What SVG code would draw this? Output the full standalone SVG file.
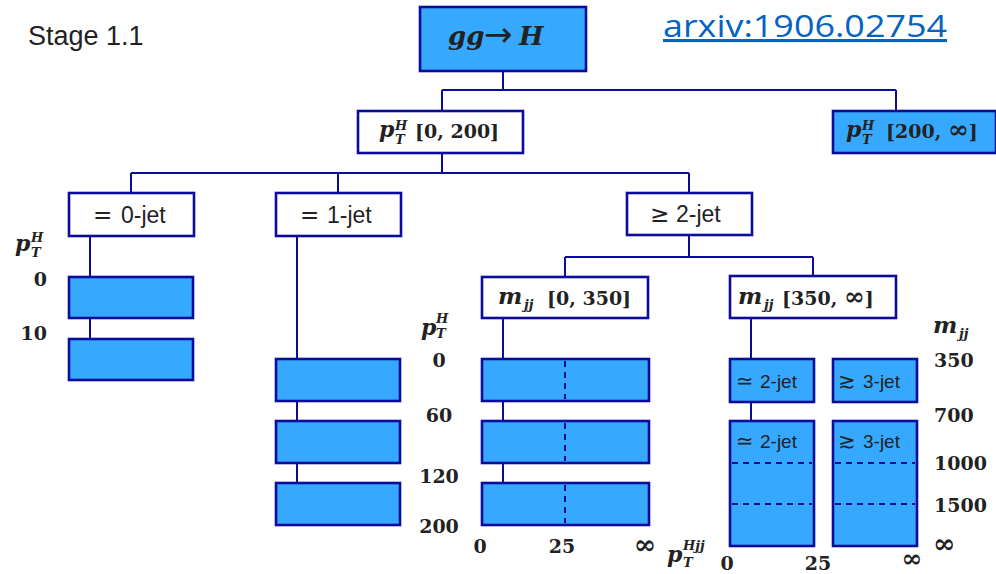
<svg xmlns="http://www.w3.org/2000/svg" width="996" height="574" viewBox="0 0 996 574">
<style>
.bw{fill:#ffffff;stroke:#0b0b9c;stroke-width:2.6}
.bb{fill:#36a9ff;stroke:#0b0b9c;stroke-width:2.6}
.ln{fill:none;stroke:#0b0b9c;stroke-width:2}
.ds{fill:none;stroke:#0b0b9c;stroke-width:2;stroke-dasharray:6,5}
.sans{font-family:"Liberation Sans","DejaVu Sans",sans-serif;fill:#222}
.sym{font-family:"DejaVu Sans",sans-serif;fill:#222}
.mi{font-family:"DejaVu Serif",serif;font-weight:bold;font-style:italic;fill:#222}
.mr{font-family:"DejaVu Serif",serif;font-weight:bold;fill:#222}
.num{font-family:"DejaVu Serif",serif;font-weight:bold;fill:#222;font-size:19px}
</style>
<rect x="0" y="0" width="996" height="574" fill="#ffffff"/>
<text x="28" y="45" class="sans" font-size="27">Stage 1.1</text>
<text x="663" y="37" font-family="'Open Sans','Liberation Sans',sans-serif" font-size="31" fill="#0563c1" textLength="284" lengthAdjust="spacingAndGlyphs" text-decoration="underline">arxiv:1906.02754</text>
<g id="connectors">
<path class="ln" d="M503,71V90M442,90H896M442,90V111M896,90V111"/>
<path class="ln" d="M442,153V173M131,173H689M131,173V193M338,173V193M689,173V193"/>
<path class="ln" d="M90,236V277M90,318V339"/>
<path class="ln" d="M297,236V359M297,401V421M297,463V483"/>
<path class="ln" d="M689,235V257M565,257H813M565,257V277M813,257V276"/>
<path class="ln" d="M503,318V359M503,401V421M503,463V483"/>
<path class="ln" d="M751,318V359M751,402V421"/>
</g>
<g id="ggH">
<rect class="bb" x="420" y="7" width="166" height="64"/>
<text y="45" class="mi" font-size="26"><tspan x="448">gg</tspan><tspan x="484" y="46" class="sym" font-style="normal" font-weight="normal" font-size="34">→</tspan><tspan x="519" y="45">H</tspan></text>
</g>
<g id="pt0_200">
<rect class="bw" x="358" y="111" width="165" height="42"/>
<text class="mi" x="379" y="137" font-size="22">p</text>
<text class="mi" x="395" y="130" font-size="13">H</text>
<text class="mi" x="395" y="144" font-size="13">T</text>
<text class="mr" x="415" y="138" font-size="19">[0, 200]</text>
</g>
<g id="pt200_inf">
<rect class="bb" x="833" y="111" width="163" height="42"/>
<text class="mi" x="846" y="137" font-size="22">p</text>
<text class="mi" x="862" y="130" font-size="13">H</text>
<text class="mi" x="862" y="144" font-size="13">T</text>
<text class="mr" x="886" y="138" font-size="19">[200, <tspan font-size="25">∞</tspan>]</text>
</g>
<g id="jet0">
<rect class="bw" x="69" y="193" width="125" height="43"/>
<text y="223" font-size="23"><tspan class="sym" x="93">=</tspan><tspan class="sans" x="121">0-jet</tspan></text>
</g>
<g id="jet1">
<rect class="bw" x="276" y="193" width="125" height="43"/>
<text y="223" font-size="23"><tspan class="sym" x="300">=</tspan><tspan class="sans" x="327">1-jet</tspan></text>
</g>
<g id="jet2">
<rect class="bw" x="627" y="193" width="125" height="42"/>
<text y="222" font-size="23"><tspan class="sym" x="650">≥</tspan><tspan class="sans" x="676">2-jet</tspan></text>
</g>
<g id="mjj0_350">
<rect class="bw" x="482" y="277" width="166" height="41"/>
<text class="mi" x="498" y="304" font-size="23">m</text>
<text class="mi" x="524" y="309" font-size="13">jj</text>
<text class="mr" x="547" y="305" font-size="19">[0, 350]</text>
</g>
<g id="mjj350_inf">
<rect class="bw" x="730" y="276" width="166" height="42"/>
<text class="mi" x="738" y="304" font-size="23">m</text>
<text class="mi" x="764" y="309" font-size="13">jj</text>
<text class="mr" x="782" y="305" font-size="19">[350, <tspan font-size="25">∞</tspan>]</text>
</g>
<g id="bins0jet">
<rect class="bb" x="69" y="277" width="124" height="41"/>
<rect class="bb" x="69" y="339" width="124" height="41"/>
</g>
<g id="bins1jet">
<rect class="bb" x="276" y="359" width="124" height="42"/>
<rect class="bb" x="276" y="421" width="124" height="42"/>
<rect class="bb" x="276" y="483" width="124" height="42"/>
</g>
<g id="binsmjjlow">
<rect class="bb" x="482" y="359" width="167" height="42"/>
<rect class="bb" x="482" y="421" width="167" height="42"/>
<rect class="bb" x="482" y="483" width="167" height="42"/>
<path class="ds" d="M565,361V399M565,423V461M565,485V523"/>
</g>
<g id="binsmjjhigh">
<rect class="bb" x="730" y="359" width="84" height="43"/>
<text y="388" font-size="19"><tspan class="sym" x="736" font-size="21">≃</tspan><tspan class="sans" x="760">2-jet</tspan></text>
<rect class="bb" x="833" y="359" width="84" height="43"/>
<text y="388" font-size="19"><tspan class="sym" x="838" font-size="21">≳</tspan><tspan class="sans" x="863">3-jet</tspan></text>
<rect class="bb" x="730" y="421" width="84" height="125"/>
<text y="448" font-size="19"><tspan class="sym" x="736" font-size="21">≃</tspan><tspan class="sans" x="760">2-jet</tspan></text>
<rect class="bb" x="833" y="421" width="84" height="125"/>
<text y="448" font-size="19"><tspan class="sym" x="838" font-size="21">≳</tspan><tspan class="sans" x="863">3-jet</tspan></text>
<path class="ds" d="M732,463H812M732,504H812M835,463H915M835,504H915"/>
</g>
<g id="axislabels">
<text class="mi" x="15" y="251" font-size="22">p</text>
<text class="mi" x="31" y="242" font-size="13">H</text>
<text class="mi" x="31" y="257" font-size="13">T</text>
<text class="num" x="47" y="286" text-anchor="end">0</text>
<text class="num" x="47" y="340" text-anchor="end">10</text>
<text class="mi" x="421" y="335" font-size="22">p</text>
<text class="mi" x="436" y="323" font-size="13">H</text>
<text class="mi" x="436" y="338" font-size="13">T</text>
<text class="num" x="439" y="367" text-anchor="middle">0</text>
<text class="num" x="439" y="422" text-anchor="middle">60</text>
<text class="num" x="439" y="483" text-anchor="middle">120</text>
<text class="num" x="439" y="533" text-anchor="middle">200</text>
<text class="num" x="480" y="553" text-anchor="middle">0</text>
<text class="num" x="562" y="553" text-anchor="middle">25</text>
<text class="mr" x="645" y="554" text-anchor="middle" font-size="27">∞</text>
<text class="mi" x="667" y="562" font-size="22">p</text>
<text class="mi" x="683" y="550" font-size="13">Hjj</text>
<text class="mi" x="683" y="567" font-size="13">T</text>
<text class="num" x="727" y="570" text-anchor="middle">0</text>
<text class="num" x="818" y="570" text-anchor="middle">25</text>
<text class="mr" x="912" y="567" text-anchor="middle" font-size="25">∞</text>
<text class="mi" x="933" y="333" font-size="23">m</text>
<text class="mi" x="959" y="338" font-size="13">jj</text>
<text class="num" x="934" y="367">350</text>
<text class="num" x="934" y="422">700</text>
<text class="num" x="934" y="470">1000</text>
<text class="num" x="934" y="512">1500</text>
<text class="mr" x="933" y="553" font-size="27">∞</text>
</g>
</svg>
